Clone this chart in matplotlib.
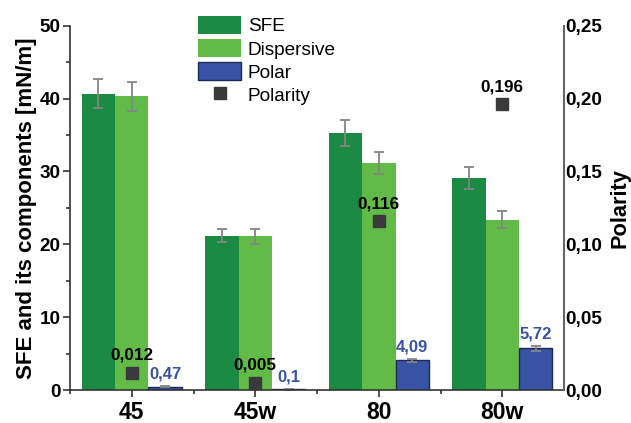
import numpy as np
import matplotlib.pyplot as plt
from matplotlib.ticker import FuncFormatter, MultipleLocator, FixedLocator

plt.rcParams['font.family'] = ['Liberation Sans', 'DejaVu Sans']

samples = ['45', '45w', '80', '80w']
sfe = [40.7, 21.2, 35.3, 29.1]
sfe_err = [2.0, 0.9, 1.8, 1.5]
dispersive = [40.3, 21.1, 31.2, 23.4]
disp_err = [2.0, 1.0, 1.5, 1.2]
polar = [0.47, 0.1, 4.09, 5.72]
polar_err = [0.1, 0.05, 0.2, 0.3]
polarity = [0.012, 0.005, 0.116, 0.196]

c_sfe = '#1b8a43'
c_disp = '#62bb47'
c_polar = '#3953a4'
c_err = '#858585'

comma2 = FuncFormatter(lambda v, p: ('%.2f' % v).replace('.', ','))

fig = plt.figure(figsize=(6.31, 4.23), dpi=100)
ax = fig.add_axes([0.111, 0.078, 0.783, 0.861])
x = np.arange(len(samples))
w = 0.27

ekw = dict(ecolor=c_err, elinewidth=1.3, capsize=3.5, capthick=1.3)
b1 = ax.bar(x - w, sfe, w, yerr=sfe_err, color=c_sfe, label='SFE', error_kw=ekw)
b2 = ax.bar(x, dispersive, w, yerr=disp_err, color=c_disp, label='Dispersive', error_kw=ekw)
b3 = ax.bar(x + w, polar, w, yerr=polar_err, color=c_polar, edgecolor='#1c2a55',
            linewidth=1, label='Polar', error_kw=ekw)

for xi, v, e in zip(x + w, polar, polar_err):
    ax.annotate(('%g' % v).replace('.', ','), (xi, v + e), xytext=(0, 3),
                textcoords='offset points', ha='center', va='bottom',
                color=c_polar, fontsize=12, fontweight='bold')

ax.set_xlim(-0.5, 3.5)
ax.set_ylim(0, 50)
ax.set_xticks(x)
ax.set_xticklabels(samples, fontsize=16.5, fontweight='bold')
ax.xaxis.set_minor_locator(FixedLocator([-0.5, 0.5, 1.5, 2.5]))
ax.yaxis.set_major_locator(MultipleLocator(10))
ax.yaxis.set_minor_locator(MultipleLocator(5))
ax.tick_params(axis='both', which='major', direction='out', length=5, width=1.2, color='#333333')
ax.tick_params(axis='both', which='minor', direction='out', length=3, width=1.2, color='#333333')
ax.tick_params(axis='y', labelsize=13.6, pad=2)
ax.tick_params(axis='x', pad=3)
for lab in ax.get_yticklabels():
    lab.set_fontweight('bold')
ax.set_ylabel('SFE and its components [mN/m]', fontsize=16, fontweight='bold', labelpad=2)
ax.spines['top'].set_visible(False)
ax.spines['right'].set_visible(False)
ax.spines['left'].set_color('#333333')
ax.spines['bottom'].set_color('#333333')
ax.spines['left'].set_linewidth(1.2)
ax.spines['bottom'].set_linewidth(1.2)

ax2 = ax.twinx()
ax2.set_ylim(0, 0.25)
ax2.yaxis.set_major_locator(MultipleLocator(0.05))
ax2.yaxis.set_major_formatter(comma2)
ax2.tick_params(axis='y', length=0, pad=1, labelsize=13.6)
for lab in ax2.get_yticklabels():
    lab.set_fontweight('bold')
for s in ['top', 'left', 'bottom']:
    ax2.spines[s].set_visible(False)
ax2.spines['right'].set_color('#666666')
ax2.spines['right'].set_linewidth(1.5)
ax2.set_ylabel('Polarity', fontsize=15.7, fontweight='bold', labelpad=5)

pm, = ax2.plot(x, polarity, 's', color='#3a3a3d', markersize=8, linestyle='none', label='Polarity')
for xi, v in zip(x, polarity):
    ax2.annotate(('%g' % v).replace('.', ','), (xi, v), xytext=(0, 7),
                 textcoords='offset points', ha='center', va='bottom',
                 color='black', fontsize=12.3, fontweight='bold')

fig.legend([b1, b2, b3, pm], ['SFE', 'Dispersive', 'Polar', 'Polarity'],
           loc='upper left', bbox_to_anchor=(0.314, 0.962), frameon=False,
           fontsize=13.7, handlelength=2.26, handleheight=1.05, labelspacing=0.2,
           handletextpad=0.35, borderpad=0, borderaxespad=0)

fig.savefig('out.png', dpi=100)
